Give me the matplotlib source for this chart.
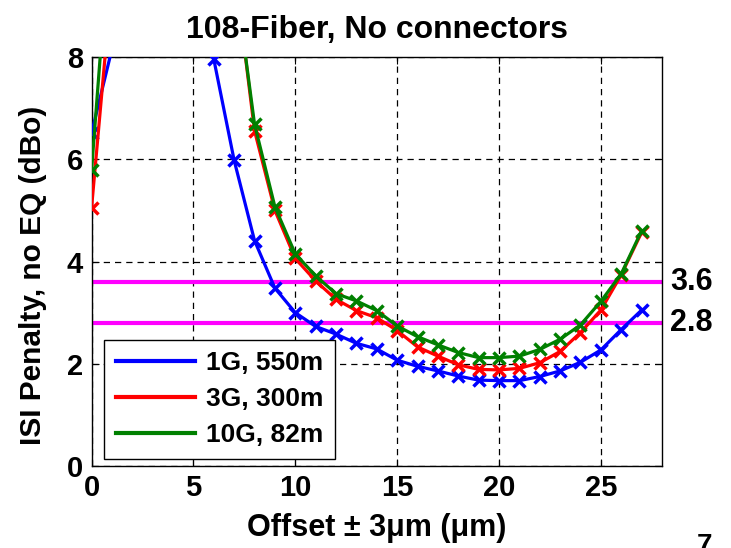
import matplotlib.pyplot as plt
import numpy as np

plt.rcParams['font.family'] = ['Liberation Sans', 'DejaVu Sans']
plt.rcParams['font.weight'] = 'bold'

# offset in um, one point per micron
offset = np.arange(0, 28)
# values above 8 are off the chart, only guessed so the lines leave at the right place
p_1g = [6.51, 8.15, 11.0, 12.5, 13.0, 11.5, 7.96, 5.98, 4.41, 3.48, 3.00, 2.73, 2.58, 2.40,
        2.29, 2.07, 1.95, 1.86, 1.76, 1.68, 1.67, 1.67, 1.75, 1.86, 2.03, 2.27, 2.67, 3.05]
p_3g = [5.04, 9.5, 12.0, 14.0, 15.0, 15.0, 13.0, 9.8, 6.56, 5.00, 4.06, 3.62, 3.26, 3.04,
        2.90, 2.65, 2.33, 2.15, 1.98, 1.89, 1.88, 1.91, 2.02, 2.24, 2.61, 3.05, 3.74, 4.57]
p_10g = [5.78, 11.0, 13.0, 15.0, 16.0, 16.0, 14.0, 9.7, 6.69, 5.07, 4.15, 3.72, 3.37, 3.23,
         3.04, 2.74, 2.53, 2.37, 2.22, 2.12, 2.12, 2.15, 2.28, 2.48, 2.76, 3.22, 3.76, 4.60]
names = ['1G, 550m', '3G, 300m', '10G, 82m']
limits = [3.6, 2.8]

fig = plt.figure(figsize=(7.31, 5.48), dpi=100)
ax = fig.add_axes([0.1252, 0.1496, 0.7804, 0.7464])

for lim in limits:
    ax.axhline(lim, color='#ff00ff', lw=3, zorder=2)
    ax.text(1.014, lim, '%.1f' % lim, transform=ax.get_yaxis_transform(),
            fontsize=22, fontweight='bold', va='center', ha='left')

for y, c, n in zip([p_1g, p_3g, p_10g], ['#0000ff', '#ff0000', '#008000'], names):
    ax.plot(offset, y, color=c, lw=2.3, marker='x', ms=9, mew=2.5, label=n, zorder=3)

ax.set_xlim(0, 28)
ax.set_ylim(0, 8)
ax.set_xticks([0, 5, 10, 15, 20, 25])
ax.set_yticks([0, 2, 4, 6, 8])
ax.grid(True, color='k', ls=(0, (5, 4)), lw=0.9, zorder=1)
ax.set_axisbelow(True)
ax.tick_params(direction='in', length=5, width=0.8, top=True, right=True,
               labelsize=21, pad=6)
for t in ax.get_xticklabels() + ax.get_yticklabels():
    t.set_fontweight('bold')
for s in ax.spines.values():
    s.set_linewidth(1.0)

ax.set_title('108-Fiber, No connectors', fontsize=23, fontweight='bold', pad=14)
ax.set_xlabel('Offset \u00b1 3\u03bcm (\u03bcm)', fontsize=22, fontweight='bold', labelpad=8)
ax.set_ylabel('ISI Penalty, no EQ (dBo)', fontsize=21.5, fontweight='bold')
ax.yaxis.set_label_coords(-0.078, 0.465)

leg = ax.legend(loc='lower left', bbox_to_anchor=(0.022, 0.017), borderaxespad=0,
                fontsize=19, handlelength=3.0, handletextpad=0.4, labelspacing=0.45,
                fancybox=False, framealpha=1, edgecolor='k', borderpad=0.45)
leg.get_frame().set_linewidth(1.0)
for h in leg.get_lines():
    h.set_marker('')
    h.set_linewidth(3)

fig.text(0.964, 0.027, '7', fontsize=20, fontweight='bold', ha='center', va='top')

fig.savefig('out.png', dpi=100)
